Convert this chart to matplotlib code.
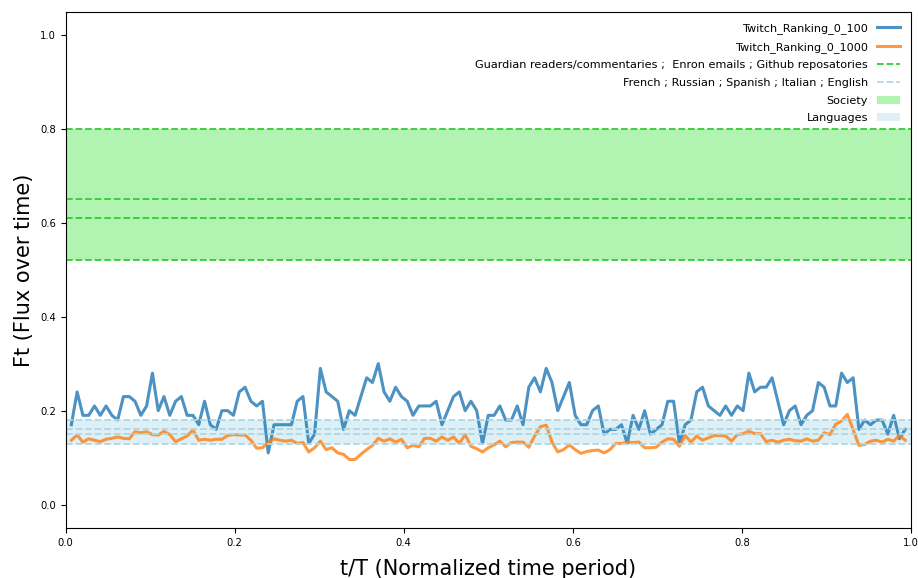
import numpy as np
import matplotlib
matplotlib.use("Agg")
import matplotlib.pyplot as plt

# Flux over time, overlap of consecutive Twitch rankings
ranking_0_100 = [
    0.17, 0.24, 0.19, 0.19, 0.21, 0.19, 0.21, 0.19, 0.18, 0.23, 0.23, 0.22,
    0.19, 0.21, 0.28, 0.20, 0.23, 0.19, 0.22, 0.23, 0.19, 0.19, 0.17, 0.22,
    0.17, 0.16, 0.20, 0.20, 0.19, 0.24, 0.25, 0.22, 0.21, 0.22, 0.11, 0.17,
    0.17, 0.17, 0.17, 0.22, 0.23, 0.13, 0.15, 0.29, 0.24, 0.23, 0.22, 0.16,
    0.20, 0.19, 0.23, 0.27, 0.26, 0.30, 0.24, 0.22, 0.25, 0.23, 0.22, 0.19,
    0.21, 0.21, 0.21, 0.22, 0.17, 0.20, 0.23, 0.24, 0.20, 0.22, 0.20, 0.13,
    0.19,
    0.19, 0.21, 0.18, 0.18, 0.21, 0.17, 0.25, 0.27, 0.24, 0.29, 0.26, 0.20,
    0.23, 0.26, 0.19, 0.17, 0.17, 0.20, 0.21, 0.15, 0.16, 0.16, 0.17, 0.13,
    0.19, 0.16, 0.20, 0.15, 0.16, 0.17, 0.22, 0.22, 0.13, 0.17, 0.18, 0.24,
    0.25, 0.21, 0.20, 0.19, 0.21, 0.19, 0.21, 0.20, 0.28, 0.24, 0.25, 0.25,
    0.27,
    0.22, 0.17, 0.20, 0.21, 0.17, 0.19, 0.20, 0.26, 0.25, 0.21, 0.21, 0.28,
    0.26, 0.27, 0.16, 0.18, 0.17, 0.18, 0.18, 0.15, 0.19, 0.14, 0.16,
]

ranking_0_1000 = [
    0.137, 0.148, 0.133, 0.140, 0.137, 0.134, 0.139, 0.141, 0.144, 0.141, 0.140, 0.155,
    0.153, 0.155, 0.149, 0.148, 0.156, 0.149, 0.134, 0.140, 0.146, 0.159, 0.137, 0.139,
    0.137, 0.139, 0.139, 0.147, 0.149, 0.148, 0.148, 0.137, 0.120, 0.121, 0.132, 0.140,
    0.137, 0.135, 0.137, 0.130, 0.132, 0.112, 0.121, 0.135, 0.117, 0.121, 0.110, 0.107,
    0.096, 0.096, 0.107, 0.117, 0.126, 0.141, 0.135, 0.140, 0.133, 0.139, 0.121, 0.126,
    0.123, 0.141, 0.141, 0.135, 0.144, 0.137, 0.144, 0.130, 0.149, 0.124, 0.119, 0.112,
    0.121,
    0.127, 0.135, 0.123, 0.132, 0.133, 0.133, 0.122, 0.146, 0.166, 0.169, 0.133, 0.112,
    0.117, 0.127, 0.117, 0.109, 0.113, 0.115, 0.116, 0.110, 0.117, 0.130, 0.130, 0.133,
    0.132, 0.133, 0.121, 0.121, 0.122, 0.133, 0.140, 0.139, 0.124, 0.147, 0.133, 0.146,
    0.137, 0.142, 0.147, 0.147, 0.146, 0.135, 0.149, 0.151, 0.156, 0.151, 0.151, 0.134,
    0.137,
    0.133, 0.137, 0.139, 0.136, 0.135, 0.140, 0.135, 0.137, 0.153, 0.149, 0.171, 0.178,
    0.192, 0.160, 0.126, 0.128, 0.135, 0.137, 0.133, 0.139, 0.135, 0.147, 0.137,
]

# Reference flux levels of other datasets
society_levels = [0.52, 0.61, 0.65, 0.80]
language_levels = [0.13, 0.15, 0.16, 0.18]

society_label = "Guardian readers/commentaries ;  Enron emails ; Github reposatories"
language_label = "French ; Russian ; Spanish ; Italian ; English"

x_ticks = [0.0, 0.2, 0.4, 0.6, 0.8, 1.0]
y_ticks = [0.0, 0.2, 0.4, 0.6, 0.8, 1.0]

n = len(ranking_0_100)
t = np.arange(1, n + 1) / (n + 1)

fig = plt.figure(figsize=(9.18, 5.78), dpi=100)
ax = fig.add_axes([0.0714, 0.0865, 0.9210, 0.8933])

ax.plot(t, ranking_0_100, color="tab:blue", alpha=0.8, lw=2.2,
        label="Twitch_Ranking_0_100")
ax.plot(t, ranking_0_1000, color="tab:orange", alpha=0.8, lw=2.2,
        label="Twitch_Ranking_0_1000")

for i, lvl in enumerate(society_levels):
    ax.axhline(lvl, color="limegreen", ls="--", lw=1.3,
               label=society_label if i == 0 else None)
for i, lvl in enumerate(language_levels):
    ax.axhline(lvl, color="lightblue", ls="--", lw=1.3,
               label=language_label if i == 0 else None)

ax.fill_between([0, 1], min(society_levels), max(society_levels),
                color="lightgreen", alpha=0.7, lw=0, label="Society")
ax.fill_between([0, 1], min(language_levels), max(language_levels),
                color="lightblue", alpha=0.4, lw=0, label="Languages")

ax.set_xlim(0, 1)
ax.set_ylim(-0.05, 1.05)
ax.set_xticks(x_ticks)
ax.set_yticks(y_ticks)
ax.tick_params(labelsize=7.2)

ax.set_xlabel("t/T (Normalized time period)", fontsize=15, labelpad=8)
ax.set_ylabel("Ft (Flux over time)", fontsize=15)

ax.legend(loc="upper right", frameon=False, markerfirst=False, fontsize=8.15,
          labelspacing=0.68, borderaxespad=0.6)

fig.savefig("out.png", dpi=100)
